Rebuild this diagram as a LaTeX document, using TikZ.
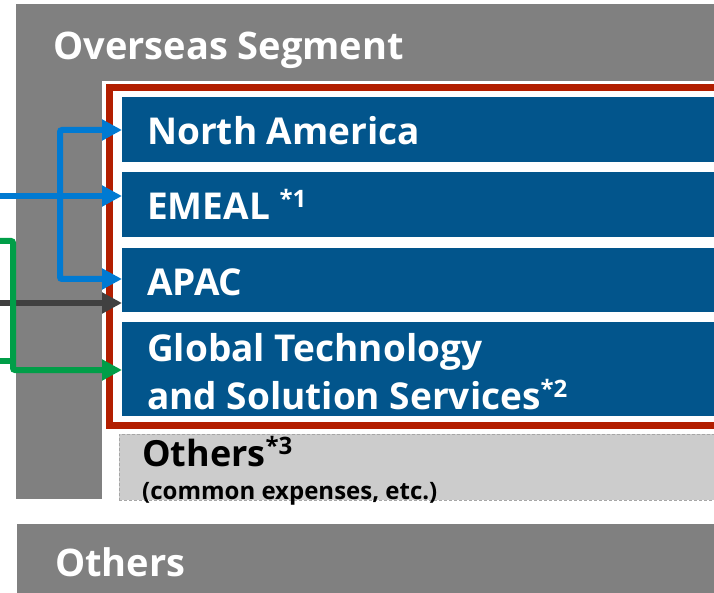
\documentclass[tikz,border=0pt]{standalone}
\usepackage{fontspec}
\setmainfont{Open Sans}
\usetikzlibrary{arrows.meta,calc,positioning}
\definecolor{segGray}{RGB}{128,128,128}
\definecolor{regBlue}{RGB}{2,85,140}
\definecolor{frameRed}{RGB}{178,30,0}
\definecolor{otherGray}{RGB}{204,204,204}
\definecolor{lineBlue}{RGB}{0,122,210}
\definecolor{lineDark}{RGB}{64,64,64}
\definecolor{lineGreen}{RGB}{0,158,72}
\tikzset{
  region/.style={fill=regBlue, anchor=north west, minimum width=640pt, inner sep=0pt},
  feed/.style={line width=6pt, rounded corners=2pt, >={Triangle[length=20pt,width=20pt]}, ->},
  big/.style={font=\bfseries\fontsize{37}{48}\selectfont, anchor=base west, inner sep=0pt, text=white},
}
\newcommand{\fnmark}[1]{\raisebox{12pt}{\fontsize{24}{24}\selectfont *#1}}

\begin{document}
\begin{tikzpicture}[x=1pt,y=-1pt]
\useasboundingbox (0,0) rectangle (714,593);
\clip (0,0) rectangle (714,593);
\fill[segGray] (16,4) rectangle (760,499);
\fill[white] (102,81) rectangle (760,501);
\node[big, font=\bfseries\fontsize{38}{48}\selectfont] (overseas) at (53,60) {Overseas Segment};
\draw[frameRed, line width=7pt] (109.5,87.5) rectangle (760,425.5);
\node[region, minimum height=65pt] (na) at (122,97) {};
\node[region, minimum height=65pt] (emeal) at (122,172) {};
\node[region, minimum height=64pt] (apac) at (122,248) {};
\node[region, minimum height=94pt] (gtss) at (122,322) {};
\node[big] (na-txt) at (147,145) {North America};
\node[big] (emeal-txt) at (147,220) {EMEAL \fnmark{1}};
\node[big] (apac-txt) at (147,295) {APAC};
\node[big, align=left] (gtss-txt) at (147,409) {Global Technology\\and Solution Services\fnmark{2}};
\node[fill=otherGray, draw=black!35, dash pattern=on 3pt off 2pt, anchor=north west, minimum width=640pt, minimum height=66pt, inner sep=0pt] (others) at (119,434) {};
\node[anchor=base west, inner sep=0pt, font=\bfseries\fontsize{36}{40}\selectfont] (others-txt) at (142,466) {Others\fnmark{3}};
\node[anchor=base west, inner sep=0pt, font=\bfseries\fontsize{24}{26}\selectfont] (others-note) at (142,499) {(common expenses, etc.)};
\fill[segGray] (17,524) rectangle (760,620);
\node[big, font=\bfseries\fontsize{38}{48}\selectfont] (rest) at (55,576) {Others};
\coordinate (in-blue) at (0,196);
\coordinate (in-dark) at (0,303);
\coordinate (in-green) at (0,241);
\coordinate (in-green2) at (0,361);
\draw[feed, lineBlue] (in-blue) -- (emeal.west |- in-blue);
\draw[feed, lineBlue, <->] (na.west |- 0,130) -| (60,279) -- (apac.west |- 0,279);
\draw[feed, lineDark] (in-dark) -- (apac.west |- in-dark);
\draw[line width=6pt, lineGreen] (in-green2) -- (13,361);
\draw[feed, lineGreen] (in-green) -| (13,370) -- (gtss.west |- 0,370);
\end{tikzpicture}
\end{document}
